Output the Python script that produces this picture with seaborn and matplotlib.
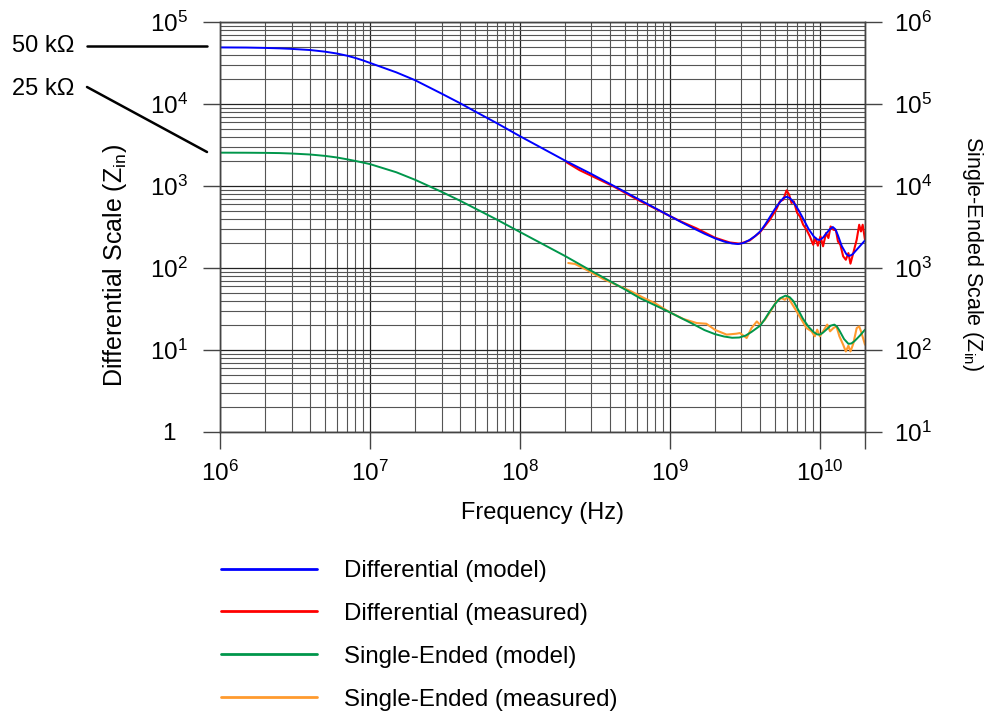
import matplotlib
matplotlib.use("Agg")
import matplotlib.pyplot as plt
import seaborn as sns
import pandas as pd
from matplotlib.lines import Line2D
from matplotlib.ticker import LogLocator, NullLocator, NullFormatter

# differential, model
diff_model_f = [1e6, 1.5e6, 2e6, 2.5e6, 3e6, 4e6, 5e6, 6e6, 7e6, 8e6, 9e6, 1e7, 1.5e7, 2e7,
                3e7, 4e7, 5e7, 7e7, 1e8, 2e8, 3e8, 5e8, 7e8, 1e9, 1.2e9, 1.4e9, 1.7e9, 2e9,
                2.3e9, 2.6e9, 2.85e9, 3.1e9, 3.4e9, 3.7e9, 4.0e9, 4.3e9, 4.6e9, 5.0e9, 5.4e9,
                5.7e9, 6.0e9, 6.3e9, 6.66e9, 7.2e9, 7.7e9, 8.4e9, 9.1e9, 9.6e9, 1e10, 1.05e10,
                1.1e10, 1.17e10, 1.22e10, 1.27e10, 1.32e10, 1.4e10, 1.5e10, 1.55e10, 1.6e10,
                1.66e10, 1.8e10, 2e10]
diff_model_z = [49000, 48800, 48300, 47700, 47000, 45500, 43500, 41300, 38900, 36400, 34000,
                31700, 24300, 19500, 13400, 10200, 8150, 5850, 4050, 2040, 1400, 850, 610,
                430, 360, 312, 262, 230, 210, 199, 196, 202, 220, 245, 279, 335, 407, 520,
                631, 710, 740, 712, 640, 510, 407, 300, 243, 223, 220, 235, 262, 300, 316,
                296, 250, 185, 148, 141, 142, 148, 175, 217]

# differential, measured
diff_meas_f = [2.05e8, 2.5e8, 3e8, 4.2e8, 6e8, 8e8, 1e9, 1.2e9, 1.5e9, 2e9, 2.5e9, 2.93e9,
               3.41e9, 3.98e9, 4.64e9, 5.14e9, 5.41e9, 5.7e9, 6.0e9, 6.24e9, 6.47e9, 6.71e9,
               7.06e9, 7.36e9, 7.74e9, 8.15e9, 8.58e9, 9.03e9, 9.36e9, 9.7e9, 1.01e10, 1.05e10,
               1.10e10, 1.14e10, 1.18e10, 1.23e10, 1.28e10, 1.32e10, 1.37e10, 1.43e10, 1.49e10,
               1.55e10, 1.60e10, 1.67e10, 1.76e10, 1.83e10, 1.88e10, 1.93e10, 2e10]
diff_meas_z = [1940, 1560, 1330, 990, 690, 530, 430, 365, 305, 234, 205, 198,
               217, 272, 388, 524, 649, 681, 884, 783, 621, 649,
               469, 427, 337, 293, 243, 192, 232, 187, 243, 184,
               267, 232, 321, 293, 288, 211, 192, 139, 126,
               152, 113, 152, 221, 337, 279, 337, 221]

# single-ended, model
se_model_f = [1e6, 1.5e6, 2e6, 2.5e6, 3e6, 4e6, 5e6, 6e6, 7e6, 8e6, 9e6, 1e7, 1.5e7, 2e7,
              3e7, 4e7, 5e7, 7e7, 1e8, 2e8, 3e8, 5e8, 6.3e8, 1e9, 1.2e9, 1.4e9, 1.7e9, 2e9,
              2.3e9, 2.6e9, 2.9e9, 3.2e9, 3.5e9, 4.0e9, 4.3e9, 4.6e9, 5.0e9, 5.4e9, 5.9e9,
              6.3e9, 6.66e9, 7.2e9, 7.7e9, 8.4e9, 9.1e9, 9.6e9, 1e10, 1.05e10, 1.1e10,
              1.18e10, 1.25e10, 1.3e10, 1.35e10, 1.45e10, 1.55e10, 1.62e10, 1.7e10, 1.85e10,
              2e10]
se_model_z = [2550, 2545, 2535, 2520, 2490, 2420, 2330, 2230, 2120, 2020, 1930, 1850, 1470,
              1190, 850, 660, 535, 390, 275, 140, 92, 55, 43, 28.8, 24.3, 21.1, 17.5, 15.6,
              14.6, 14.1, 14.2, 15.0, 16.6, 19.8, 23.8, 29.0, 36, 42.5, 46, 44, 39.5, 30.5,
              24.2, 19.2, 16.5, 15.5, 15.4, 16.3, 17.6, 19.8, 20.4, 19.3, 17.3, 13.6, 11.9,
              12.0, 12.8, 15.0, 17.7]

# single-ended, measured
se_meas_f = [2.1e8, 2.33e8, 2.78e8, 3.59e8, 4.64e8, 5.5e8, 6.64e8, 8e8, 1e9, 1.23e9, 1.51e9,
             1.75e9, 2.0e9, 2.39e9, 2.77e9, 2.93e9, 3.25e9, 3.5e9, 3.8e9, 3.98e9, 4.3e9,
             4.76e9, 5.14e9, 5.55e9, 5.84e9, 6.15e9, 6.47e9, 7.0e9, 7.55e9, 8.15e9, 8.8e9,
             9.26e9, 9.6e9, 1e10, 1.05e10, 1.12e10, 1.17e10, 1.23e10, 1.29e10, 1.35e10,
             1.43e10, 1.49e10, 1.55e10, 1.6e10, 1.67e10, 1.76e10, 1.83e10, 1.88e10, 1.94e10, 2e10]
se_meas_z = [115, 112, 95, 73.5, 59.7, 52, 43.5, 37, 28.8, 23.9, 21.3,
             20.9, 17.6, 15.4, 15.8, 16.1, 14.0, 18.5, 22.3, 20.4, 23.4,
             31, 39.2, 43, 41, 45, 37.4, 29.6, 23.4, 18.5, 16.9,
             14.7, 17.7, 14.7, 16.9, 20.4, 16.9, 18.5, 19.4, 14.7,
             11.6, 9.6, 11.3, 9.6, 11.9, 18.5, 19.4, 16.9, 14, 11.6]

labels = ["Differential (model)", "Differential (measured)",
          "Single-Ended (model)", "Single-Ended (measured)"]
colors = ["#0000ff", "#ff0000", "#00964b", "#ff9a2e"]

left_ticks = [1, 1e1, 1e2, 1e3, 1e4, 1e5]
left_ticklabels = ["1", "$10^1$", "$10^2$", "$10^3$", "$10^4$", "$10^5$"]
right_ticks = [1e1, 1e2, 1e3, 1e4, 1e5, 1e6]
right_ticklabels = ["$10^1$", "$10^2$", "$10^3$", "$10^4$", "$10^5$", "$10^6$"]
x_ticks = [1e6, 1e7, 1e8, 1e9, 1e10, 2e10]
x_ticklabels = ["$10^6$", "$10^7$", "$10^8$", "$10^9$", "$10^{10}$", ""]

sns.set_theme(style="white")
plt.rcParams["font.family"] = ["Liberation Sans", "DejaVu Sans"]
plt.rcParams["mathtext.fontset"] = "custom"
plt.rcParams["mathtext.rm"] = "Liberation Sans"
plt.rcParams["mathtext.it"] = "Liberation Sans:italic"
plt.rcParams["mathtext.bf"] = "Liberation Sans:bold"
for k in ["text.color", "axes.labelcolor", "xtick.color", "ytick.color"]:
    plt.rcParams[k] = "black"
FS = 17.5   # tick labels
LS = 17     # labels, legend, notes

W, H = 989, 717
fig = plt.figure(figsize=(W / 100, H / 100), dpi=100)
ax = fig.add_axes([220 / W, 1 - 432 / H, 645 / W, 410 / H])
ax.set_xscale("log")
ax.set_yscale("log")

series = [
    (diff_meas_f, diff_meas_z, colors[1], 1.5),
    (se_meas_f, se_meas_z, colors[3], 1.5),
    (diff_model_f, diff_model_z, colors[0], 1.4),
    (se_model_f, se_model_z, colors[2], 1.4),
]
for f, z, c, lw in series:
    df = pd.DataFrame({"f": f, "z": z})
    sns.lineplot(data=df, x="f", y="z", ax=ax, color=c, lw=lw,
                 sort=False, estimator=None, legend=False)

ax.set_xlim(1e6, 2e10)
ax.set_ylim(1, 1e5)
ax.xaxis.set_minor_locator(LogLocator(base=10, subs=range(2, 10), numticks=50))
ax.yaxis.set_minor_locator(LogLocator(base=10, subs=range(2, 10), numticks=50))
ax.xaxis.set_minor_formatter(NullFormatter())
ax.yaxis.set_minor_formatter(NullFormatter())
ax.set_xticks(x_ticks, x_ticklabels)
ax.set_yticks(left_ticks, left_ticklabels)
ax.grid(True, which="major", color="#222222", lw=0.9)
ax.grid(True, which="minor", color="#555555", lw=0.8)
ax.set_axisbelow(True)
ax.tick_params(which="minor", length=0)
ax.tick_params(axis="x", which="major", direction="out", length=12, width=1,
               color="#444444", labelsize=FS, pad=9, bottom=True)
ax.tick_params(axis="y", which="major", direction="out", length=12, width=1,
               color="#444444", labelsize=FS, pad=25, left=True)
for t in ax.get_yticklabels():
    t.set_ha("center")
for s in ax.spines.values():
    s.set_color("#444444")
    s.set_linewidth(1)

ax.set_xlabel("Frequency (Hz)", fontsize=LS, labelpad=11)
ax.set_ylabel("Differential Scale (Z$_{\\mathregular{in}}$)", fontsize=18)
ax.yaxis.set_label_coords(-0.141, 0.407)

ax2 = ax.twinx()
ax2.set_yscale("log")
ax2.set_ylim(10, 1e6)
ax2.set_yticks(right_ticks, right_ticklabels)
ax2.yaxis.set_minor_locator(NullLocator())
ax2.grid(False)
ax2.tick_params(axis="y", which="major", direction="out", length=12, width=1,
                color="#444444", labelsize=FS, pad=9, right=True)
for s in ax2.spines.values():
    s.set_color("#444444")
    s.set_linewidth(1)
ax2.set_ylabel("Single-Ended Scale (Z$_{\\mathregular{in}}$)", fontsize=15.5,
               rotation=270)
ax2.yaxis.set_label_coords(1.166, 0.434)
ax2.yaxis.label.set_va("center")

# scale annotations on the left
fig.text(12 / W, 1 - 46 / H, "50 k\u03a9", fontsize=LS, va="center", ha="left")
fig.text(12 / W, 1 - 89 / H, "25 k\u03a9", fontsize=LS, va="center", ha="left")
fig.add_artist(Line2D([87 / W, 207 / W], [1 - 46 / H, 1 - 46 / H], color="black", lw=1.8))
fig.add_artist(Line2D([87 / W, 207 / W], [1 - 87 / H, 1 - 152 / H], color="black", lw=1.8))

handles = [Line2D([], [], color=c, lw=2) for c in colors]
fig.legend(handles, labels, loc="upper left", bbox_to_anchor=(221 / W, 1 - 560 / H),
           frameon=False, fontsize=LS + 0.3, handlelength=4.0, handletextpad=1.1,
           labelspacing=0.87, borderpad=0, borderaxespad=0)

fig.savefig("out.png", dpi=100)
